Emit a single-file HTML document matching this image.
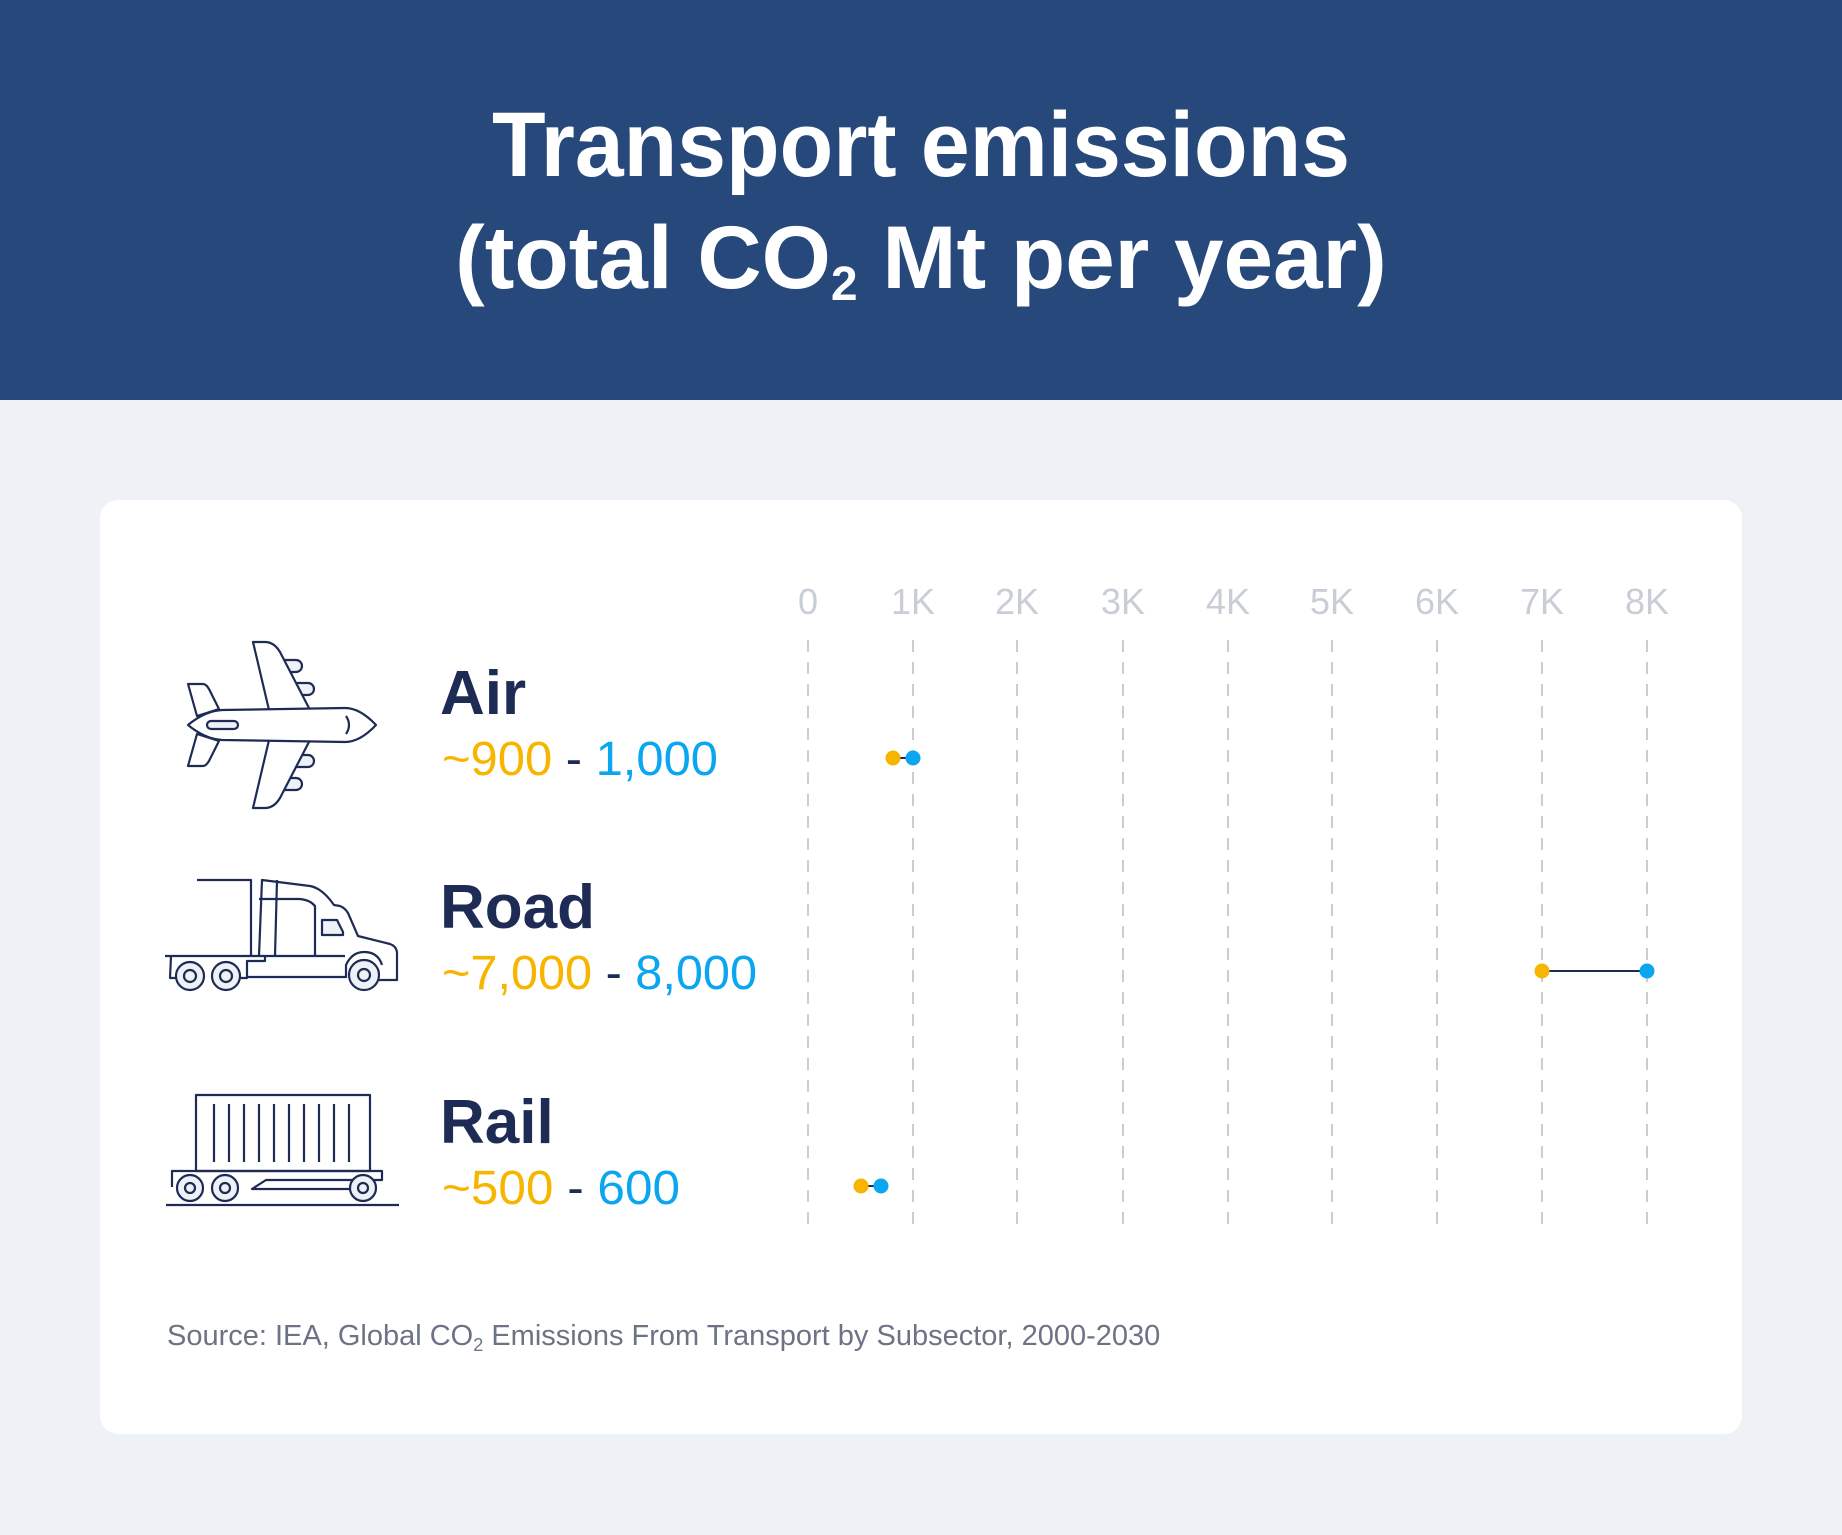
<!DOCTYPE html>
<html><head><meta charset="utf-8"><style>
html,body{margin:0;padding:0;background:#eef1f6;}
svg{display:block}
text{font-family:"Liberation Sans",sans-serif}
</style></head><body>
<svg width="1842" height="1535" viewBox="0 0 1842 1535" xmlns="http://www.w3.org/2000/svg">
<rect width="1842" height="1535" fill="#eef1f6"/>
<rect width="1842" height="400" fill="#27487a"/>
<text x="921" y="176" text-anchor="middle" font-size="92" font-weight="bold" fill="#fff" textLength="858" lengthAdjust="spacingAndGlyphs">Transport emissions</text>
<text x="921" y="288" text-anchor="middle" font-size="89" font-weight="bold" fill="#fff">(total CO<tspan font-size="48" dy="12">2</tspan><tspan dy="-12"> Mt per year)</tspan></text>
<rect x="100" y="500" width="1642" height="934" rx="18" fill="#fff"/>
<g font-size="36" fill="#c9cdd6" text-anchor="middle">
<text x="808" y="614">0</text><text x="913" y="614">1K</text><text x="1017" y="614">2K</text><text x="1123" y="614">3K</text><text x="1228" y="614">4K</text><text x="1332" y="614">5K</text><text x="1437" y="614">6K</text><text x="1542" y="614">7K</text><text x="1647" y="614">8K</text>
</g>
<g stroke="#c9cdd6" stroke-width="2" stroke-dasharray="12,10">
<line x1="808" y1="640" x2="808" y2="1226"/><line x1="913" y1="640" x2="913" y2="1226"/><line x1="1017" y1="640" x2="1017" y2="1226"/><line x1="1123" y1="640" x2="1123" y2="1226"/><line x1="1228" y1="640" x2="1228" y2="1226"/><line x1="1332" y1="640" x2="1332" y2="1226"/><line x1="1437" y1="640" x2="1437" y2="1226"/><line x1="1542" y1="640" x2="1542" y2="1226"/><line x1="1647" y1="640" x2="1647" y2="1226"/>
</g>
<g stroke="#1e2b55" stroke-width="2">
<line x1="893" y1="758" x2="913" y2="758"/><line x1="1542" y1="971" x2="1647" y2="971"/><line x1="861" y1="1186" x2="881" y2="1186"/>
</g>
<g fill="#f7b500"><circle cx="893" cy="758" r="7.5"/><circle cx="1542" cy="971" r="7.5"/><circle cx="861" cy="1186" r="7.5"/></g>
<g fill="#0aa6f0"><circle cx="913" cy="758" r="7.5"/><circle cx="1647" cy="971" r="7.5"/><circle cx="881" cy="1186" r="7.5"/></g>
<g font-weight="bold" font-size="62" fill="#1e2b55">
<text x="440" y="714">Air</text><text x="440" y="928">Road</text><text x="440" y="1143">Rail</text>
</g>
<g font-size="48">
<text x="442" y="775" textLength="276" lengthAdjust="spacingAndGlyphs"><tspan fill="#f7b500">~900</tspan><tspan fill="#1e2b55"> - </tspan><tspan fill="#0aa6f0">1,000</tspan></text>
<text x="442" y="989" textLength="315" lengthAdjust="spacingAndGlyphs"><tspan fill="#f7b500">~7,000</tspan><tspan fill="#1e2b55"> - </tspan><tspan fill="#0aa6f0">8,000</tspan></text>
<text x="442" y="1204" textLength="238" lengthAdjust="spacingAndGlyphs"><tspan fill="#f7b500">~500</tspan><tspan fill="#1e2b55"> - </tspan><tspan fill="#0aa6f0">600</tspan></text>
</g>
<text x="167" y="1345" font-size="29" fill="#6b7385">Source: IEA, Global CO<tspan font-size="18" dy="6">2</tspan><tspan dy="-6"> Emissions From Transport by Subsector, 2000-2030</tspan></text>
<g fill="none" stroke="#1e2b55" stroke-width="2.2" stroke-linejoin="round">
<path d="M284,660h12a6,6 0 0 1 0,12h-8z M296,683h12a6,6 0 0 1 0,12h-8z M284,790h12a6,6 0 0 0 0,-12h-8z M296,767h12a6,6 0 0 0 0,-12h-8z" fill="#eef1f6"/>
<path d="M269,710 L253,642 H265 Q274,642 280,652 L310,710 Z" fill="#fff"/>
<path d="M269,740 L253,808 H265 Q274,808 280,798 L310,740 Z" fill="#fff"/>
<path d="M197,716 L188,684 H203 Q206,684 209,689 L219,709 Z" fill="#fff"/>
<path d="M197,734 L188,766 H203 Q206,766 209,761 L219,741 Z" fill="#fff"/>
<path d="M188,725 Q205,711 222,710 L345,708 Q360,708 376,725 Q360,742 345,742 L222,740 Q205,739 188,725 Z" fill="#fff"/>
<rect x="207" y="721" width="31" height="8" rx="4" fill="#eef1f6"/>
<path d="M346,716 Q352,725 346,734"/>
<path d="M197,880 H251 V956"/>
<path d="M259,956 L262,880 L310,886 Q322,888 334,905 L340,906 Q345,908 348,913 L358,936 L390,944 Q396,946 397,952 V980 H373"/>
<path d="M259,899 H300 Q310,900 315,906 V956"/>
<path d="M277,880 L275,956"/>
<path d="M322,920 H337 L343,932 V935 H322 Z" fill="#eef1f6"/>
<line x1="165" y1="956" x2="345" y2="956"/>
<path d="M171,956 L170,978 H177 M240,978 H247 L247,961 H265 V956"/>
<path d="M247,977 H346"/>
<circle cx="190" cy="976" r="14" fill="#eef1f6"/><circle cx="190" cy="976" r="6"/>
<circle cx="226" cy="976" r="14" fill="#eef1f6"/><circle cx="226" cy="976" r="6"/>
<path d="M346,978 V965 Q352,952 364,952 Q378,952 382,965"/>
<circle cx="364" cy="975" r="15" fill="#eef1f6"/><circle cx="364" cy="975" r="6"/>
<rect x="196" y="1095" width="174" height="76"/>
<path d="M214,1104v58 M229,1104v58 M244,1104v58 M259,1104v58 M274,1104v58 M289,1104v58 M304,1104v58 M319,1104v58 M334,1104v58 M349,1104v58"/>
<path d="M172,1187 V1171 H382 V1180 H266 L252,1189 H350"/>
<circle cx="190" cy="1188" r="13" fill="#eef1f6"/><circle cx="190" cy="1188" r="5"/>
<circle cx="225" cy="1188" r="13" fill="#eef1f6"/><circle cx="225" cy="1188" r="5"/>
<circle cx="363" cy="1188" r="13" fill="#eef1f6"/><circle cx="363" cy="1188" r="5"/>
<line x1="166" y1="1205" x2="399" y2="1205"/>
</g>
</svg>
</body></html>
